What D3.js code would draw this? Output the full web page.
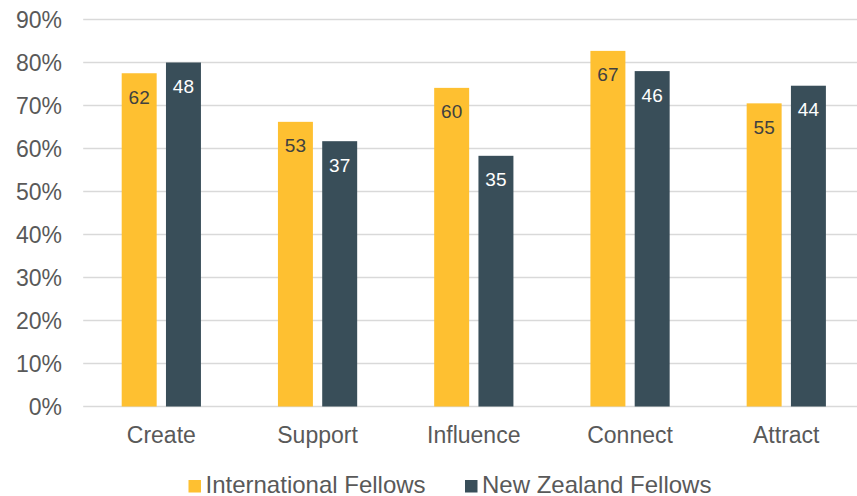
<!DOCTYPE html>
<html>
<head>
<meta charset="utf-8">
<script src="https://cdn.jsdelivr.net/npm/d3@7"></script>
<style>
  html, body { margin: 0; padding: 0; background: #fff; }
  svg { display: block; }
  text { font-family: "Liberation Sans", Arial, sans-serif; }
</style>
</head>
<body>
<svg id="chart" width="857" height="496"></svg>
<script>
const categories = ["Create", "Support", "Influence", "Connect", "Attract"];
const seriesNames = ["International Fellows", "New Zealand Fellows"];
const intlPct = [77.5, 66.2, 74.1, 82.7, 70.5];
const nzPct = [80.0, 61.7, 58.3, 78.0, 74.6];
const intlCounts = [62, 53, 60, 67, 55];
const nzCounts = [48, 37, 35, 46, 44];
const yTicks = [0, 10, 20, 30, 40, 50, 60, 70, 80, 90];
const colors = ["#FEC031", "#394E59"];
const labelColors = ["#404040", "#FFFFFF"];

(function () {
const svg = d3.select("#chart");
const mLeft = 83.2, mRight = 864.4, mTop = 19.5, mBottom = 406.5;

const x = d3.scaleBand().domain(categories).range([mLeft, mRight]).paddingInner(0).paddingOuter(0);
const x1 = d3.scaleBand().domain([0, 1]).range([38.5, x.bandwidth() - 38.5]).paddingInner(0.21).paddingOuter(0);
const y = d3.scaleLinear().domain([0, 90]).range([mBottom, mTop]);

// gridlines
svg.append("g").selectAll("line").data(yTicks).join("line")
  .attr("x1", mLeft).attr("x2", mRight)
  .attr("y1", d => y(d)).attr("y2", d => y(d))
  .attr("stroke", "#D9D9D9").attr("stroke-width", 1.5);

// y labels
svg.append("g").selectAll("text").data(yTicks).join("text")
  .attr("x", 62).attr("y", d => y(d) + 8)
  .attr("text-anchor", "end")
  .attr("fill", "#595959").attr("font-size", "23px")
  .text(d => d + "%");

const rows = categories.map((c, i) => ({
  cat: c,
  vals: [
    { s: 0, pct: intlPct[i], n: intlCounts[i] },
    { s: 1, pct: nzPct[i], n: nzCounts[i] }
  ]
}));

const g = svg.append("g").selectAll("g").data(rows).join("g")
  .attr("transform", d => `translate(${x(d.cat)},0)`);

g.selectAll("rect").data(d => d.vals).join("rect")
  .attr("x", d => x1(d.s)).attr("width", x1.bandwidth())
  .attr("y", d => y(d.pct)).attr("height", d => y(0) - y(d.pct))
  .attr("fill", d => colors[d.s]);

g.selectAll("text.lbl").data(d => d.vals).join("text")
  .attr("class", "lbl")
  .attr("x", d => x1(d.s) + x1.bandwidth() / 2)
  .attr("y", d => y(d.pct) + 30.5)
  .attr("text-anchor", "middle")
  .attr("font-size", "19px")
  .attr("fill", d => labelColors[d.s])
  .text(d => d.n);

// category labels
svg.append("g").selectAll("text").data(categories).join("text")
  .attr("x", d => x(d) + x.bandwidth() / 2)
  .attr("y", 443)
  .attr("text-anchor", "middle")
  .attr("fill", "#595959").attr("font-size", "23px")
  .text(d => d);

// legend
const legendX = [188.5, 465];
const lg = svg.append("g").selectAll("g").data(seriesNames).join("g")
  .attr("transform", (d, i) => `translate(${legendX[i]},480)`);
lg.append("rect").attr("width", 12.5).attr("height", 12.5).attr("fill", (d, i) => colors[i]);
lg.append("text").attr("x", 17).attr("y", 12.5)
  .attr("fill", "#595959").attr("font-size", "24px").text(d => d);
})();
</script>
</body>
</html>
